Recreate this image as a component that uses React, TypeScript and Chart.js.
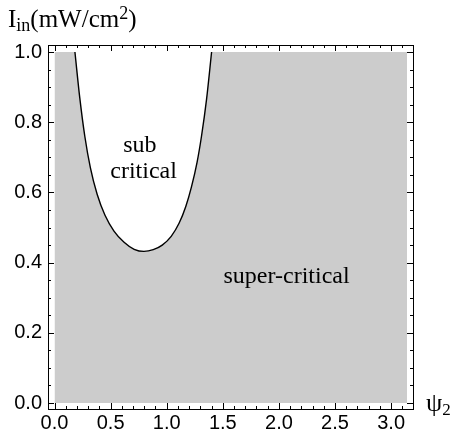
import React, { useEffect, useRef } from "react";
import { Chart, registerables } from "chart.js";
Chart.register(...registerables);

// boundary curve between sub-critical and super-critical regions
const curveX = [0.182, 0.225, 0.27, 0.32, 0.38, 0.45, 0.53, 0.62, 0.71, 0.797, 0.88, 0.96, 1.04, 1.11, 1.17, 1.22, 1.27, 1.31, 1.355, 1.4];
const curveY = [1.0, 0.87, 0.76, 0.67, 0.595, 0.535, 0.49, 0.458, 0.438, 0.432, 0.437, 0.45, 0.475, 0.512, 0.56, 0.615, 0.685, 0.76, 0.865, 1.0];

// plotted region (gray) extents
const regionX = [0, 3.1416];
const regionY = [1, 1];

const xTickValues = [0, 0.5, 1, 1.5, 2, 2.5, 3];
const yTickValues = [0, 0.2, 0.4, 0.6, 0.8, 1.0];
const xMinorTicks = [0.1, 0.2, 0.3, 0.4, 0.6, 0.7, 0.8, 0.9, 1.1, 1.2, 1.3, 1.4, 1.6, 1.7, 1.8, 1.9, 2.1, 2.2, 2.3, 2.4, 2.6, 2.7, 2.8, 2.9, 3.1];
const yMinorTicks = [0.05, 0.1, 0.15, 0.25, 0.3, 0.35, 0.45, 0.5, 0.55, 0.65, 0.7, 0.75, 0.85, 0.9, 0.95];

const regionLabels = ["sub", "critical", "super-critical"];
const regionLabelX = [0.761, 0.794, 2.068];
const regionLabelY = [0.7165, 0.641, 0.342];

const SERIF = '"Liberation Serif", "Times New Roman", serif';
const SANS = '"Liberation Sans", Arial, sans-serif';

const framePlugin = {
  id: "frameTicks",
  afterDatasetsDraw(chart: any) {
    const ctx = chart.ctx;
    const { left, right, top, bottom } = chart.chartArea;
    const xs = chart.scales.x;
    const ys = chart.scales.y;
    ctx.save();
    ctx.strokeStyle = "#000";
    ctx.lineWidth = 1;
    ctx.strokeRect(Math.round(left) + 0.5, Math.round(top) + 0.5, Math.round(right - left), Math.round(bottom - top));
    ctx.beginPath();
    const vx = (v: number, len: number) => {
      const p = Math.round(xs.getPixelForValue(v)) + 0.5;
      ctx.moveTo(p, bottom);
      ctx.lineTo(p, bottom - len);
      ctx.moveTo(p, top);
      ctx.lineTo(p, top + len);
    };
    const vy = (v: number, len: number) => {
      const p = Math.round(ys.getPixelForValue(v)) + 0.5;
      ctx.moveTo(left, p);
      ctx.lineTo(left + len, p);
      ctx.moveTo(right, p);
      ctx.lineTo(right - len, p);
    };
    xTickValues.forEach((v) => vx(v, 6));
    xMinorTicks.forEach((v) => vx(v, 3));
    yTickValues.forEach((v) => vy(v, 6));
    yMinorTicks.forEach((v) => vy(v, 3));
    ctx.stroke();

    // region labels
    ctx.fillStyle = "#000";
    ctx.font = `24px ${SERIF}`;
    ctx.textAlign = "center";
    ctx.textBaseline = "alphabetic";
    regionLabels.forEach((t, i) => {
      ctx.fillText(t, xs.getPixelForValue(regionLabelX[i]), ys.getPixelForValue(regionLabelY[i]));
    });

    // axis titles
    ctx.textAlign = "left";
    let x = 8;
    const base = 27;
    const seg = (t: string, size: number, dy: number) => {
      ctx.font = `${size}px ${SERIF}`;
      ctx.fillText(t, x, base + dy);
      x += ctx.measureText(t).width;
    };
    seg("I", 25, 0);
    seg("in", 18, 4);
    seg("(mW/cm", 25, 0);
    seg("2", 18, -8);
    seg(")", 25, 0);

    x = 426;
    ctx.font = `26px ${SERIF}`;
    ctx.fillText("\u03C8", x, 411);
    x += ctx.measureText("\u03C8").width;
    ctx.font = `17px ${SERIF}`;
    ctx.fillText("2", x, 415);
    ctx.restore();
  },
};

export default function App() {
  const ref = useRef<HTMLCanvasElement>(null);
  useEffect(() => {
    document.body.style.margin = "0";
    const chart = new Chart(ref.current!, {
      type: "line",
      data: {
        datasets: [
          {
            data: curveX.map((v, i) => ({ x: v, y: curveY[i] })),
            borderColor: "#000",
            borderWidth: 1.4,
            backgroundColor: "#ffffff",
            fill: { value: 1 },
            pointRadius: 0,
            cubicInterpolationMode: "monotone",
            order: 0,
          },
          {
            data: regionX.map((v, i) => ({ x: v, y: regionY[i] })),
            borderWidth: 0,
            borderColor: "rgba(0,0,0,0)",
            backgroundColor: "#cccccc",
            fill: "origin",
            pointRadius: 0,
            order: 1,
          },
        ],
      },
      options: {
        responsive: false,
        animation: false,
        events: [],
        layout: { padding: { top: 45, right: 46, left: 0, bottom: 0 } },
        plugins: { legend: { display: false }, tooltip: { enabled: false } },
        scales: {
          x: {
            type: "linear",
            min: -0.058,
            max: 3.195,
            grid: { display: false, drawTicks: false },
            border: { display: false },
            afterBuildTicks: (s: any) => {
              s.ticks = xTickValues.map((v) => ({ value: v }));
            },
            afterFit: (s: any) => {
              s.height = 35;
            },
            ticks: {
              autoSkip: false,
              maxRotation: 0,
              padding: 2,
              color: "#000",
              font: { family: SANS, size: 20 },
              callback: (v: any) => Number(v).toFixed(1),
            },
          },
          y: {
            type: "linear",
            min: -0.017,
            max: 1.02,
            grid: { display: false, drawTicks: false },
            border: { display: false },
            afterBuildTicks: (s: any) => {
              s.ticks = yTickValues.map((v) => ({ value: v }));
            },
            afterFit: (s: any) => {
              s.width = 48;
            },
            ticks: {
              autoSkip: false,
              padding: 6,
              color: "#000",
              font: { family: SANS, size: 20 },
              callback: (v: any) => Number(v).toFixed(1),
            },
          },
        },
      },
      plugins: [framePlugin],
    } as any);
    return () => chart.destroy();
  }, []);
  return (
    <div style={{ width: 459, height: 444 }}>
      <canvas ref={ref} width={459} height={444} />
    </div>
  );
}
